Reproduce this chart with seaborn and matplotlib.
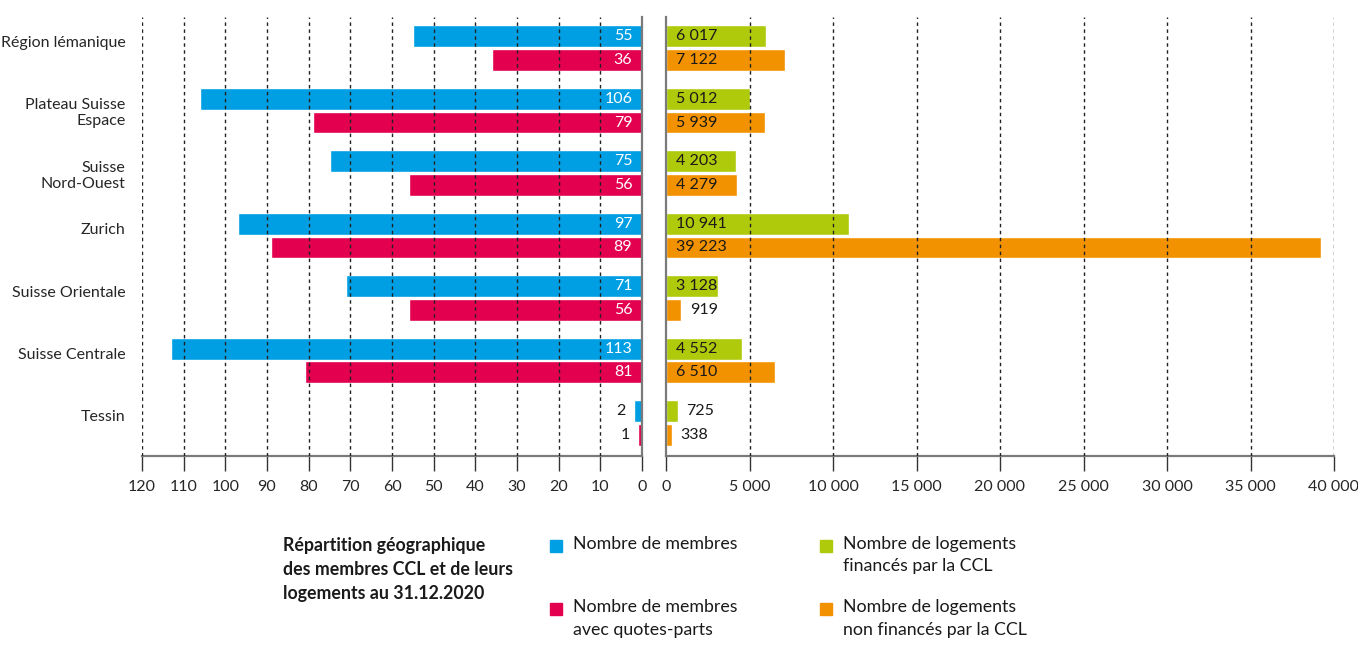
import matplotlib
matplotlib.use("Agg")
import matplotlib.pyplot as plt
import matplotlib.transforms as mtransforms
from matplotlib.patches import Rectangle
from matplotlib.ticker import FuncFormatter
import pandas as pd
import seaborn as sns

### Données
regions = ["Région lémanique", "Plateau Suisse\nEspace", "Suisse\nNord-Ouest", "Zurich",
           "Suisse Orientale", "Suisse Centrale", "Tessin"]
membres = [55, 106, 75, 97, 71, 113, 2]
membres_qp = [36, 79, 56, 89, 56, 81, 1]
log_fin = [6017, 5012, 4203, 10941, 3128, 4552, 725]
log_non_fin = [7122, 5939, 4279, 39223, 919, 6510, 338]

lab_membres = "Nombre de membres"
lab_membres_qp = "Nombre de membres\navec quotes-parts"
lab_fin = "Nombre de logements\nfinancés par la CCL"
lab_non_fin = "Nombre de logements\nnon financés par la CCL"

bleu, rouge, vert, orange = "#009FE3", "#E3004F", "#AFCA0B", "#F39200"

sns.set_style("white")
plt.rcParams['font.family'] = ['Lato', 'DejaVu Sans']
plt.rcParams['font.size'] = 11.5
plt.rcParams['text.color'] = '#1a1a1a'

df_m = pd.DataFrame({'region': regions * 2,
                     'valeur': membres + membres_qp,
                     'serie': [lab_membres] * 7 + [lab_membres_qp] * 7})
df_l = pd.DataFrame({'region': regions * 2,
                     'valeur': log_fin + log_non_fin,
                     'serie': [lab_fin] * 7 + [lab_non_fin] * 7})

W, H = 1358, 646
fig = plt.figure(figsize=(W / 100, H / 100), dpi=100)

def box(x0, x1, y0, y1):
    return [x0 / W, 1 - y1 / H, (x1 - x0) / W, (y1 - y0) / H]

axL = fig.add_axes(box(142, 642, 17, 456))
axR = fig.add_axes(box(666, 1334, 17, 456))

sns.barplot(data=df_m, y='region', x='valeur', hue='serie', orient='h',
            palette=[bleu, rouge], width=0.76, gap=0.08, ax=axL, legend=False,
            saturation=1)
sns.barplot(data=df_l, y='region', x='valeur', hue='serie', orient='h',
            palette=[vert, orange], width=0.76, gap=0.08, ax=axR, legend=False,
            saturation=1)

fmt = FuncFormatter(lambda v, p: f"{int(v):,}".replace(",", " "))

axL.set_xlim(120, 0)
axL.set_xticks(range(120, -1, -10))
axR.set_xlim(0, 40000)
axR.set_xticks(range(0, 40001, 5000))
axR.xaxis.set_major_formatter(fmt)

for ax in (axL, axR):
    ax.set_ylim(6.53, -0.5)
    ax.set_xlabel('')
    ax.set_ylabel('')
    ax.grid(False)
    for x in ax.get_xticks()[:-1] if ax is axL else ax.get_xticks()[1:]:
        ax.axvline(x, color='#222222', lw=1, ls=(0, (2.5, 2.5)), zorder=5)
    ax.spines['top'].set_visible(False)
    ax.spines['bottom'].set_color('#7a7a7a')
    ax.spines['bottom'].set_linewidth(1.6)
    ax.tick_params(axis='x', bottom=True, direction='out', length=11, width=1,
                   color='#333333', pad=6, labelsize=11.5)

axL.spines['left'].set_visible(False)
axL.spines['right'].set_color('#7a7a7a')
axL.spines['right'].set_linewidth(1.6)
axL.tick_params(axis='y', left=False, length=0, pad=12, labelsize=11.5)
axR.spines['right'].set_visible(False)
axR.spines['left'].set_color('#7a7a7a')
axR.spines['left'].set_linewidth(1.6)
axR.set_yticks([])

# les libellés sur une ligne sont un peu plus hauts
up = mtransforms.ScaledTranslation(0, 7 / 100, fig.dpi_scale_trans)
for t in axL.get_yticklabels():
    if "\n" not in t.get_text():
        t.set_transform(t.get_transform() + up)

# étiquettes de valeurs
for cont in axL.containers:
    for bar in cont:
        v = bar.get_width()
        yc = bar.get_y() + bar.get_height() / 2
        if v >= 10:
            axL.annotate(f"{int(v)}", (0, yc), xytext=(-7, 0), textcoords='offset points',
                         ha='right', va='center', color='white', fontsize=11.5, zorder=6)
        else:
            axL.annotate(f"{int(v)}", (v, yc), xytext=(-6, 0), textcoords='offset points',
                         ha='right', va='center', color='#1a1a1a', fontsize=11.5, zorder=6)

for cont in axR.containers:
    for bar in cont:
        v = bar.get_width()
        yc = bar.get_y() + bar.get_height() / 2
        txt = f"{int(v):,}".replace(",", " ")
        if v >= 2000:
            axR.annotate(txt, (0, yc), xytext=(7, 0), textcoords='offset points',
                         ha='left', va='center', color='#1a1a1a', fontsize=11.5, zorder=6)
        else:
            axR.annotate(txt, (v, yc), xytext=(6, 0), textcoords='offset points',
                         ha='left', va='center', color='#1a1a1a', fontsize=11.5, zorder=6)

# légende
def fx(x): return x / W
def fy(y): return 1 - y / H

fig.text(fx(283), fy(537), "Répartition géographique\ndes membres CCL et de leurs\nlogements au 31.12.2020",
         ha='left', va='top', fontsize=12.8, fontweight='bold', linespacing=1.5)

items = [(lab_membres, bleu, 556, 546), (lab_membres_qp, rouge, 556, 609),
         (lab_fin, vert, 826, 546), (lab_non_fin, orange, 826, 609)]
for lab, col, x, y in items:
    fig.add_artist(Rectangle((fx(x - 6), fy(y + 6)), 12 / W, 12 / H, color=col,
                             transform=fig.transFigure))
    fig.text(fx(x + 17), fy(y - 10), lab, ha='left', va='top', fontsize=12.8,
             linespacing=1.5)

fig.savefig('out.png', dpi=100)
